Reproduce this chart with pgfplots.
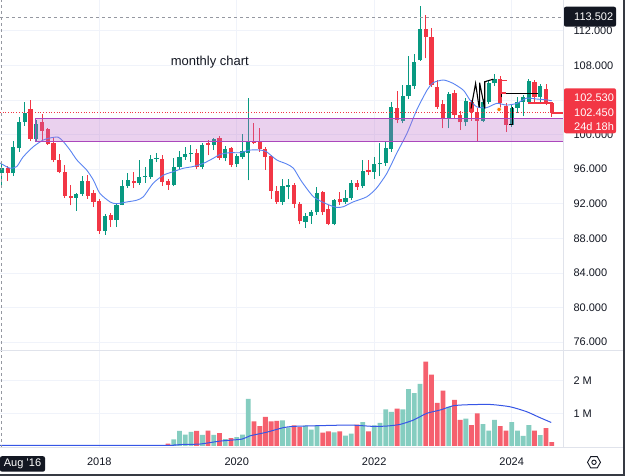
\documentclass[border=0pt]{standalone}
\usepackage{pgfplots}
\pgfplotsset{compat=1.18}
\usepackage{pgfplotstable}
\usepackage{fontspec}
\setmainfont{Liberation Sans}

\definecolor{upcol}{HTML}{089981}
\definecolor{downcol}{HTML}{F23645}
\definecolor{volup}{HTML}{85CDC0}
\definecolor{voldown}{HTML}{F5606E}
\definecolor{gridcol}{HTML}{F0F3FA}
\definecolor{sepcol}{HTML}{E0E3EB}
\definecolor{txt}{HTML}{131722}
\definecolor{macol}{HTML}{5A84F2}
\definecolor{vmacol}{HTML}{3656E6}
\definecolor{zonecol}{HTML}{BA68C8}
\definecolor{zoneedge}{HTML}{AB47BC}
\definecolor{crosscol}{HTML}{9598A1}

% monthly candles: index 0 = Aug 2016, volume in millions
\pgfplotstableread{
i o h l c vol
0 95.5 96.6 94.2 96.1 0.03
1 96.1 96.4 94.6 95.6 0.03
2 95.5 99.2 95.2 98.5 0.03
3 98.4 102.0 98.0 101.5 0.03
4 101.5 103.8 101.0 102.5 0.03
5 103.0 104.0 99.3 99.5 0.03
6 99.5 101.7 99.2 101.2 0.03
7 101.5 102.4 99.2 100.4 0.03
8 100.6 100.8 98.8 98.9 0.03
9 99.0 99.6 96.8 97.0 0.03
10 97.0 97.8 95.5 95.7 0.03
11 95.7 96.5 92.7 92.9 0.03
12 92.9 94.2 91.8 92.7 0.03
13 92.7 93.2 91.2 93.1 0.03
14 93.1 95.2 92.9 94.6 0.03
15 94.6 95.3 92.6 92.9 0.03
16 93.2 93.6 91.6 92.2 0.03
17 92.3 92.6 88.5 88.9 0.03
18 88.9 90.8 88.4 90.6 0.03
19 90.7 90.9 89.3 90.1 0.03
20 90.1 92.0 89.3 91.9 0.03
21 91.9 94.7 91.8 94.1 0.03
22 94.1 95.6 93.8 94.7 0.03
23 94.6 95.7 93.8 94.4 0.03
24 94.4 97.1 94.2 95.1 0.03
25 95.1 96.3 94.4 95.2 0.03
26 95.1 97.6 94.9 97.2 0.03
27 97.2 97.9 96.8 97.3 0.03
28 97.2 97.6 94.1 94.5 0.03
29 94.6 94.8 93.6 94.2 0.07
30 94.2 97.3 94.0 96.2 0.20
31 96.2 98.1 95.9 97.4 0.46
32 97.4 98.6 97.1 97.7 0.35
33 97.7 98.8 96.85 97.8 0.43
34 97.9 98.3 96.0 96.3 0.46
35 96.3 99.0 96.0 98.8 0.34
36 99.05 99.4 97.6 98.8 0.47
37 98.8 99.6 98.2 99.5 0.34
38 99.6 99.8 97.1 97.3 0.39
39 97.25 98.7 96.9 98.3 0.21
40 98.4 98.6 96.2 96.5 0.24
41 96.6 97.8 96.3 97.5 0.27
42 97.4 100.1 97.2 98.1 0.35
43 97.9 104.2 94.7 99.1 1.44
44 99.3 101.3 98.9 99.0 0.75
45 99.25 100.8 98.0 98.3 0.61
46 98.35 98.6 95.9 97.4 0.89
47 97.5 97.6 92.6 93.5 0.75
48 93.5 94.0 92.0 92.2 0.77
49 92.2 94.9 91.9 94.05 0.78
50 93.95 94.8 92.5 94.15 0.57
51 94.15 94.4 91.5 92.0 0.63
52 92.0 92.2 89.6 90.0 0.58
53 89.9 90.9 89.25 90.6 0.62
54 90.6 91.3 89.7 91.0 0.50
55 91.0 93.9 90.7 93.2 0.63
56 93.3 93.5 90.7 91.0 0.41
57 91.35 91.85 89.5 89.7 0.45
58 89.7 92.6 89.5 92.4 0.42
59 92.5 93.3 91.85 92.15 0.45
60 92.15 93.6 92.0 92.7 0.32
61 92.7 94.7 92.4 94.35 0.38
62 94.35 94.7 93.6 93.95 0.65
63 94.0 97.05 93.8 95.8 0.73
64 95.9 97.05 95.3 95.7 0.45
65 95.7 97.4 94.9 96.6 0.63
66 96.6 99.0 95.2 96.7 0.71
67 96.7 99.1 96.4 98.4 1.12
68 98.3 103.8 98.0 103.2 1.04
69 103.1 105.0 101.3 101.7 1.14
70 101.6 105.7 101.3 104.4 1.12
71 104.4 109.1 104.1 105.7 1.74
72 105.6 109.3 105.3 108.4 1.62
73 108.6 114.8 108.5 112.2 1.90
74 112.2 113.8 108.8 111.3 2.58
75 111.3 112.3 105.5 105.7 2.18
76 105.5 106.3 103.0 103.2 1.32
77 103.5 104.0 100.7 101.9 1.69
78 101.9 104.9 100.7 104.7 1.20
79 104.8 105.2 101.8 102.3 1.41
80 102.3 102.7 100.5 101.4 0.80
81 101.4 104.2 101.0 103.9 0.84
82 103.8 104.0 101.6 102.6 0.64
83 102.6 103.1 99.2 101.6 1.00
84 101.6 104.1 101.4 103.8 0.67
85 103.8 106.3 103.5 105.9 0.47
86 105.9 107.0 105.6 106.4 0.80
87 106.4 106.8 103.0 103.6 0.61
88 103.3 103.6 100.3 101.1 0.47
89 101.1 103.4 100.9 103.1 0.73
90 103.1 104.3 102.5 103.8 0.47
91 103.8 104.6 102.1 104.3 0.31
92 103.8 106.4 103.5 106.2 0.64
93 106.1 106.3 103.8 104.3 0.47
94 104.3 105.8 103.5 105.6 0.33
95 105.3 105.8 103.4 103.6 0.55
96 103.6 103.8 102.05 102.53 0.12
}\candles

% moving average of the close
\pgfplotstableread{
i ma
-0.3 96.7
1.4 96.1
2.6 96.3
3.7 97.4
5.5 98.6
7.2 99.36
8.4 99.6
9.8 99.7
10.7 99.2
11.9 98.2
13.1 97.05
14.8 95.9
16 94.7
17.1 93.2
18.9 92.2
20 92.0
21.8 92.2
23.5 92.4
24.7 92.8
26.4 94.36
28.2 95.3
29.9 95.7
31.7 96.1
33.4 96.3
35.2 96.67
36.9 97.25
38.1 97.7
39.8 97.9
41.6 97.9
43.3 98.2
45.1 98.2
46.2 98.0
48 97.05
49.7 96.6
50.9 96.1
52.3 94.6
54.4 92.8
56.7 91.97
58.4 91.58
59.6 91.65
61.3 92.2
63.7 92.8
65.4 93.8
67.2 95.5
68.9 97.8
70.7 100.1
72.4 102.8
74.2 105.1
75.3 105.99
77.1 106.3
78.8 105.9
80.6 105.1
81.7 104.0
82.9 103.2
84.6 103.1
86.4 103.6
88.1 103.4
89.9 103.6
91.6 104.2
93.4 104.1
95.1 104.0
96 103.9
}\pricema

% moving average of the volume
\pgfplotstableread{
i ma
-0.3 0.02
28 0.02
30 0.03
32 0.05
34.6 0.06
38.1 0.15
41.9 0.21
43.3 0.31
46.2 0.42
49.1 0.56
50.9 0.60
55 0.62
60.8 0.64
64.8 0.60
67.2 0.61
69.5 0.66
71.8 0.79
74.2 1.00
76.5 1.10
78.8 1.23
81.1 1.26
85.2 1.27
88.7 1.20
91.6 1.05
93.9 0.87
95.9 0.72
}\volma

\pgfplotsset{
  tvbase/.style={
    scale only axis, width=563pt,
    xmin=-0.33, xmax=97.96,
    axis line style={draw=none}, major tick length=0pt,
    xtick={17,41,65,89},
    grid=major, grid style={gridcol, line width=0.8pt},
    yticklabel pos=right,
    yticklabel style={anchor=west, xshift=7pt, font=\fontsize{11}{13}\selectfont, text=txt},
    /pgf/number format/assume math mode=true,
  },
}

\begin{document}
\begin{tikzpicture}
\fill[white] (0pt,0pt) rectangle (625pt,476pt);
\useasboundingbox (0pt,0pt) rectangle (625pt,476pt);

% ---------- price pane ----------
\begin{axis}[tvbase,
  at={(0pt,126pt)}, anchor=south west, height=350pt,
  ymin=75.09, ymax=115.55,
  xticklabels={},
  ytick={76,80,84,88,92,96,100,104,108,112},
  yticklabels={76.000,80.000,84.000,88.000,92.000,96.000,100.000,{},108.000,112.000},
]
% wicks
\addplot [upcol, line width=0.9pt, quiver={u=0, v=\thisrow{h}-\thisrow{l}},
  restrict expr to domain={\thisrow{c}-\thisrow{o}}{0:100}] table [x=i, y=l] {\candles};
\addplot [downcol, line width=0.9pt, quiver={u=0, v=\thisrow{h}-\thisrow{l}},
  restrict expr to domain={\thisrow{o}-\thisrow{c}}{0.0001:100}] table [x=i, y=l] {\candles};
% bodies
\addplot [upcol, line width=4.2pt, quiver={u=0, v={max(\thisrow{c}-\thisrow{o},0.12)}},
  restrict expr to domain={\thisrow{c}-\thisrow{o}}{0:100}] table [x=i, y=o] {\candles};
\addplot [downcol, line width=4.2pt, quiver={u=0, v={max(\thisrow{o}-\thisrow{c},0.12)}},
  restrict expr to domain={\thisrow{o}-\thisrow{c}}{0.0001:100}] table [x=i, y=c] {\candles};
% moving average
\addplot [macol, line width=0.9pt, smooth, tension=0.4] table [x=i, y=ma] {\pricema};
% support / resistance zone
\addplot [draw=zoneedge, line width=1pt, fill=zonecol, fill opacity=0.3]
  coordinates {(5.9,99.21) (97.96,99.21) (97.96,101.87) (5.9,101.87)} -- cycle;
% last price and crosshair
\addplot [downcol, line width=0.7pt, dotted] coordinates {(-0.33,102.53) (97.96,102.53)};
\addplot [crosscol, line width=0.8pt, dash pattern=on 3pt off 3pt] coordinates {(-0.33,113.502) (97.96,113.502)};
\addplot [crosscol, line width=0.8pt, dash pattern=on 3pt off 3pt] coordinates {(0,75.09) (0,115.55)};
% hand drawings
\addplot [black, line width=1.1pt] coordinates {(81.9,103.0) (82.7,105.9) (83.3,103.2) (83.4,103.2) (83.4,106.0) (84.3,103.0) (84.3,106.1) (85.8,106.4)};
\addplot [black, line width=1.1pt] coordinates {(87.2,104.3) (87.2,104.75) (93.6,104.75)};
\addplot [black, line width=1.0pt] coordinates {(88.5,101.2) (89.2,101.2) (89.2,103.2)};
\addplot [downcol, line width=1.2pt] coordinates {(86.7,106.2) (88.1,106.2)};
\addplot [downcol, line width=1.2pt] coordinates {(86.9,104.8) (88.0,104.8)};
\addplot [downcol, line width=1.5pt] coordinates {(91.8,103.65) (96.0,103.65) (96.0,102.5) (97.96,102.5)};
\addplot [only marks, mark=*, mark size=2.2pt, mark options={fill=orange, draw=white, line width=0.5pt}] coordinates {(86.8,102.9)};
\node [font=\fontsize{13}{15}\selectfont, text=txt] at (axis cs:36.3,108.35) {monthly chart};
\end{axis}

% ---------- volume pane ----------
\begin{axis}[tvbase,
  at={(0pt,28pt)}, anchor=south west, height=97pt,
  ymin=-0.061, ymax=2.905,
  ytick={1,2}, yticklabels={1 M,2 M},
  xticklabels={2018,2020,2022,2024},
  xticklabel style={anchor=base, yshift=-18pt, font=\fontsize{11}{13}\selectfont, text=txt},
]
\addplot [ybar, bar width=4.8pt, bar shift=0pt, fill=volup, draw=none,
  restrict expr to domain={\thisrow{c}-\thisrow{o}}{0:100}] table [x=i, y=vol] {\candles};
\addplot [ybar, bar width=4.8pt, bar shift=0pt, fill=voldown, draw=none,
  restrict expr to domain={\thisrow{o}-\thisrow{c}}{0.0001:100}] table [x=i, y=vol] {\candles};
\addplot [vmacol, line width=1pt, smooth, tension=0.4] table [x=i, y=ma] {\volma};
\addplot [crosscol, line width=0.8pt, dash pattern=on 3pt off 3pt] coordinates {(0,-0.061) (0,2.905)};
\end{axis}

% pane separators and frame
\draw [sepcol, line width=1.2pt] (0pt,125.5pt) -- (625pt,125.5pt);
\draw [sepcol, line width=1pt] (0pt,28pt) -- (625pt,28pt);
\draw [sepcol, line width=1pt] (563pt,28pt) -- (563pt,476pt);
\draw [txt!85, line width=2pt] (0pt,1pt) -- (624pt,1pt) -- (624pt,476pt);

% crosshair labels
\fill [txt, rounded corners=2pt] (564pt,449.3pt) rectangle (616pt,469.3pt);
\node [anchor=west, inner sep=0pt, text=white, font=\fontsize{11}{13}\selectfont] at (574pt,459.3pt) {113.502};
\fill [txt, rounded corners=2pt] (0pt,4.3pt) rectangle (45pt,19.8pt);
\node [inner sep=0pt, text=white, font=\fontsize{11}{13}\selectfont] at (22.5pt,12pt) {Aug '16};

% last price label
\fill [downcol, rounded corners=2pt] (564pt,342.7pt) rectangle (616pt,387.7pt);
\node [anchor=west, inner sep=0pt, text=white, font=\fontsize{11}{13}\selectfont] at (574pt,378.7pt) {102.530};
\node [anchor=west, inner sep=0pt, text=white, font=\fontsize{11}{13}\selectfont] at (574pt,363.3pt) {102.450};
\node [anchor=west, inner sep=0pt, text=white, font=\fontsize{11}{13}\selectfont] at (574pt,349.3pt) {24d 18h};

% settings icon
\draw [txt, line width=0.9pt] (594pt,13.7pt) ++(0:6.5pt) -- ++(120:6.5pt) -- ++(180:6.5pt) -- ++(240:6.5pt) -- ++(300:6.5pt) -- ++(0:6.5pt) -- cycle;
\draw [txt, line width=0.9pt] (594pt,13.7pt) circle (2.2pt);
\end{tikzpicture}
\end{document}
